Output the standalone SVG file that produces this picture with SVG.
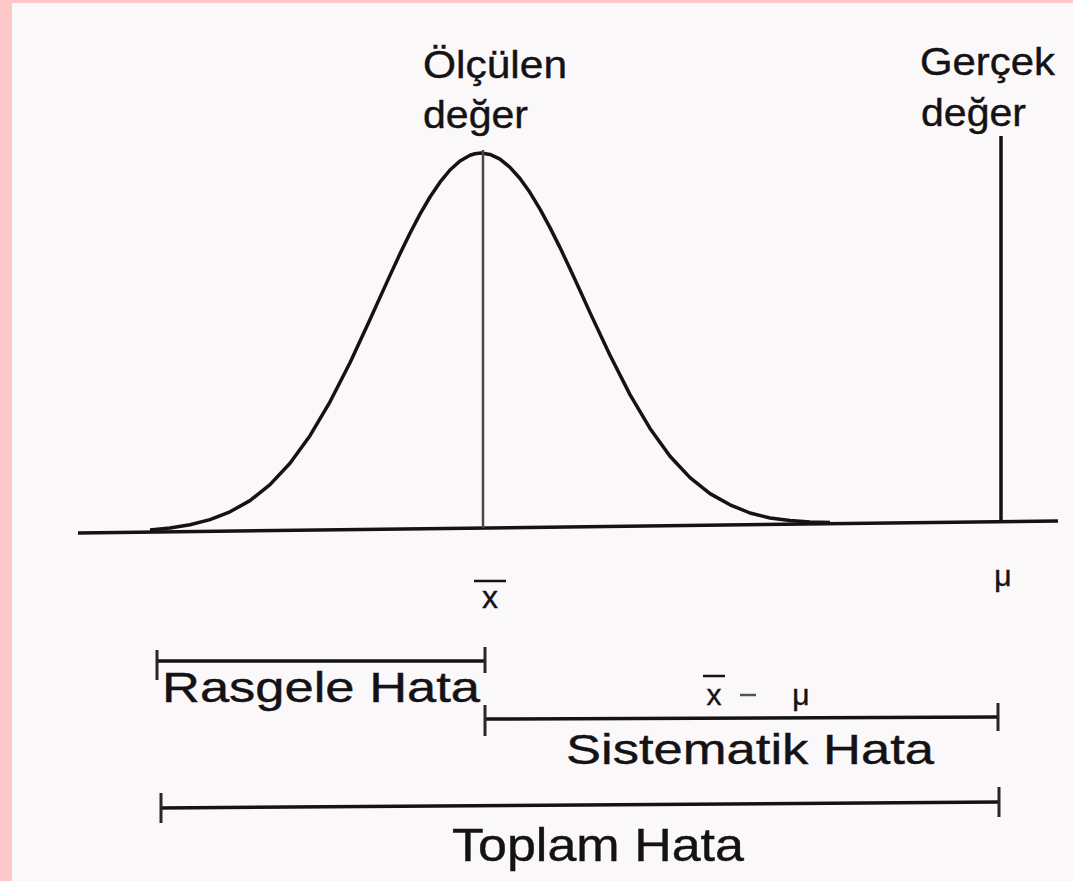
<svg xmlns="http://www.w3.org/2000/svg" width="1073" height="881" viewBox="0 0 1073 881">
<style>
text{font-family:"Liberation Sans",Arial,sans-serif;fill:#141214;stroke:#141214;stroke-width:0.4}
.lbl{font-size:38px}
.big{font-size:42px}
.ln{stroke:#151215;stroke-width:3.5;fill:none;stroke-linecap:butt}
.tick{stroke:#2a2528;stroke-width:3;fill:none}
.vline{stroke:#4a4648;stroke-width:2.5;fill:none}
</style>
<rect x="0" y="0" width="1073" height="881" fill="#ffc8c8"/>
<rect x="12" y="3" width="1061" height="878" fill="#fbf8fa"/>
<g id="axis">
<line class="ln" x1="78" y1="533" x2="1058" y2="521" stroke-width="4"/>
</g>
<g id="curve">
<polyline class="ln" stroke-width="3.8" stroke-linejoin="round" points="150,530 170,528 190,524.7 210,519.6 230,511.8 250,500.6 270,484.6 290,463.2 310,435.7 330,401.8 350,362.7 370,319.6 380,297.4 390,275.4 400,253.8 410,233.2 420,214.1 430,197 440,182.2 450,170 460,161 470,155.3 475,153.8 481,153.1 490,154.4 500,159.2 510,167.3 520,178.5 530,192.6 540,209.1 550,227.6 560,247.6 570,268.8 580,290.6 590,312.6 610,355.3 630,394.6 650,428.4 670,456.2 690,477.6 710,493.6 730,504.8 750,513 770,518 790,520.5 810,522 830,522.6"/>
</g>
<g id="measured">
<line class="vline" x1="483" y1="150" x2="483" y2="528"/>
<text class="lbl" x="423" y="78" textLength="144" lengthAdjust="spacingAndGlyphs">Ölçülen</text>
<text class="lbl" x="423" y="128" textLength="105" lengthAdjust="spacingAndGlyphs">değer</text>
<line x1="474" y1="581" x2="506" y2="581" stroke="#141214" stroke-width="2.5"/>
<text x="490" y="608" font-size="32" text-anchor="middle">x</text>
</g>
<g id="true">
<line class="ln" x1="1001" y1="136" x2="1001" y2="523" stroke-width="2.5"/>
<text class="lbl" x="920" y="75" textLength="135" lengthAdjust="spacingAndGlyphs">Gerçek</text>
<text class="lbl" x="921" y="126" textLength="105" lengthAdjust="spacingAndGlyphs">değer</text>
<text x="1003" y="586" font-size="30" text-anchor="middle">μ</text>
</g>
<g id="connectors">
<g id="random">
<line class="ln" x1="157" y1="661" x2="485" y2="661" stroke-width="3"/>
<line class="tick" x1="157" y1="650" x2="157" y2="680"/>
<line class="tick" x1="485" y1="647" x2="485" y2="673"/>
</g>
<g id="systematic">
<line class="ln" x1="485" y1="719" x2="998" y2="717" stroke-width="3"/>
<line class="tick" x1="485" y1="705" x2="485" y2="736"/>
<line class="tick" x1="998" y1="703" x2="998" y2="731"/>
</g>
<g id="total">
<line class="ln" x1="161" y1="808" x2="999" y2="802" stroke-width="3.5"/>
<line class="tick" x1="161" y1="793" x2="161" y2="823"/>
<line class="tick" x1="999" y1="787" x2="999" y2="817"/>
</g>
</g>
<g id="random-label">
<text class="big" x="162" y="702" textLength="318" lengthAdjust="spacingAndGlyphs">Rasgele Hata</text>
</g>
<g id="systematic-label">
<line x1="703" y1="676" x2="725" y2="676" stroke="#141214" stroke-width="2.5"/>
<text x="714" y="705" font-size="30" text-anchor="middle">x</text>
<line x1="740" y1="695" x2="756" y2="695" stroke="#555" stroke-width="2.5"/>
<text x="801" y="705" font-size="30" text-anchor="middle">μ</text>
<text class="big" x="566" y="764" textLength="368" lengthAdjust="spacingAndGlyphs">Sistematik Hata</text>
</g>
<g id="total-label">
<text x="452" y="861" font-size="46" textLength="292" lengthAdjust="spacingAndGlyphs">Toplam Hata</text>
</g>
</svg>
